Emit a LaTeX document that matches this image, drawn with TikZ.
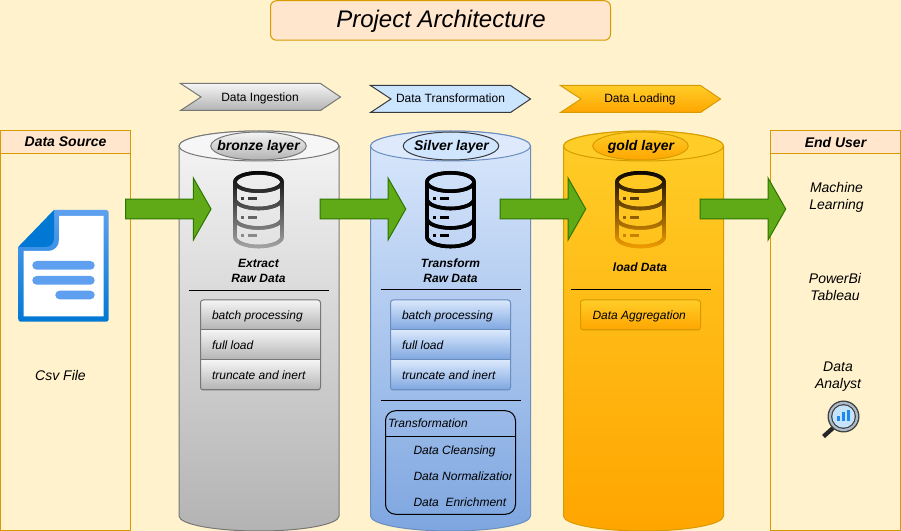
\documentclass[tikz,border=0pt]{standalone}
\usepackage{fontspec}
\setmainfont{Liberation Sans}
\usetikzlibrary{shapes.geometric,shapes.arrows}
\def\pu{0.75pt}
\definecolor{bgc}{HTML}{FFF2CC}
\definecolor{hdr}{HTML}{FFE6CC}
\definecolor{org}{HTML}{D79B00}
\definecolor{brT}{HTML}{F5F5F5}
\definecolor{brB}{HTML}{B3B3B3}
\definecolor{brS}{HTML}{777777}
\definecolor{siT}{HTML}{DAE8FC}
\definecolor{siB}{HTML}{7EA6E0}
\definecolor{siS}{HTML}{6C8EBF}
\definecolor{stepS}{HTML}{CCE5FF}
\definecolor{dkS}{HTML}{36393D}
\definecolor{goT}{HTML}{FFCD28}
\definecolor{goB}{HTML}{FFA500}
\definecolor{grn}{HTML}{60A917}
\definecolor{grnS}{HTML}{2D7600}
\definecolor{docL}{HTML}{5EA0EF}
\definecolor{docD}{HTML}{0078D4}
\definecolor{ringc}{HTML}{AEBBC8}
\definecolor{glass}{HTML}{C5E3FB}
\definecolor{barb}{HTML}{1E88F0}
\tikzset{
  txt/.style={inner sep=0,outer sep=0,font=\fontsize{9}{12}\selectfont\itshape},
  plain/.style={inner sep=0,outer sep=0,font=\fontsize{9}{12}\selectfont},
  big/.style={inner sep=0,outer sep=0,align=center,font=\fontsize{10.5}{12.75}\selectfont\itshape},
  head/.style={inner sep=0,outer sep=0,font=\fontsize{10.5}{12}\selectfont\itshape\bfseries},
  bold/.style={inner sep=0,outer sep=0,align=center,font=\fontsize{9}{11.25}\selectfont\itshape\bfseries},
  flow/.style={single arrow,draw=grnS,fill=grn,line width=0.75pt,inner sep=0,
    minimum height=85.5*\pu,minimum width=61*\pu,single arrow head extend=21.25*\pu,single arrow tip angle=120.6},
  layer/.style={ellipse,inner sep=0,minimum width=95.5*\pu,minimum height=28*\pu,line width=0.75pt},
  rule/.style={line width=0.75pt,black}
}
\newcommand\shaft{\rule{0pt}{13.9pt}}
\newcommand\cyl[4]{% x0, top, bottom, stroke
  \pgfmathsetmacro\xa{#1}\pgfmathsetmacro\xb{#1+160}\pgfmathsetmacro\xm{#1+80}
  \pgfmathsetmacro\ca{#1+35.8}\pgfmathsetmacro\cb{#1+124.2}
  \path[draw=#4,line width=0.75pt,top color=#2,bottom color=#3]
    (\xa,146) -- (\xa,516) .. controls (\xa,524.3) and (\ca,531) .. (\xm,531)
    .. controls (\cb,531) and (\xb,524.3) .. (\xb,516) -- (\xb,146)
    .. controls (\xb,137.7) and (\cb,131) .. (\xm,131)
    .. controls (\ca,131) and (\xa,137.7) .. (\xa,146) -- cycle;
}
\newcommand\stepshape[7]{% x0 y0 notch shoulder tip y1 style
  \pgfmathsetmacro\ym{(#2+#6)/2}
  \path[#7,line width=0.75pt] (#1,#2) -- (#4,#2) -- (#5,\ym) -- (#4,#6) -- (#1,#6) -- (#3,\ym) -- cycle;
}
\newcommand\dbpaths{%
  \draw[ic,line width=3.6*\pu] (0,182) ellipse [x radius=23.5,y radius=9.2];
  \draw[ic,line width=3.6*\pu] (-23.5,182) -- (-23.5,237)
     .. controls (-23.5,242.2) and (-13,246.5) .. (0,246.5)
     .. controls (13,246.5) and (23.5,242.2) .. (23.5,237) -- (23.5,182);
  \foreach \yb in {199,218.5}{
    \draw[ic,line width=3.6*\pu] (-23.5,\yb)
     .. controls (-23.5,\yb+5.2) and (-13,\yb+9.5) .. (0,\yb+9.5)
     .. controls (13,\yb+9.5) and (23.5,\yb+5.2) .. (23.5,\yb);
  }
  \foreach \yb in {198.5,218,236}{
    \fill[ic] (-17.8,\yb-1.5) rectangle (-14.5,\yb+1.5);
    \fill[ic] (-10.2,\yb-1.5) rectangle (-1.2,\yb+1.5);
  }
}
\newcommand\dbicon[3]{% cx, fade colour, end percent
  \begin{scope}[shift={(#1,0)}]
    \foreach \i in {0,...,40}{
      \pgfmathsetmacro\yy{169+\i*2}
      \pgfmathsetmacro\yz{\yy+2.4}
      \pgfmathtruncatemacro\pc{100-(100-#3)*\i/40}
      \colorlet{ic}{black!\pc!#2}
      \begin{scope}
        \clip (-30,\yy) rectangle (30,\yz);
        \dbpaths
      \end{scope}
    }
  \end{scope}
}
\newcommand\rows[6]{% x0, x1, top col, bottom col, stroke, n rows
  \pgfmathsetmacro\ybot{300+30*#6}
  \begin{scope}
    \clip[rounded corners=2pt] (#1,300) rectangle (#2,\ybot);
    \foreach \r in {1,...,#6}{
      \pgfmathsetmacro\ya{270+30*\r}\pgfmathsetmacro\yb{300+30*\r}
      \path[draw=#5,line width=0.75pt,top color=#3,bottom color=#4] (#1,\ya) rectangle (#2,\yb);
    }
  \end{scope}
  \draw[#5,line width=0.75pt,rounded corners=2pt] (#1,300) rectangle (#2,\ybot);
}
\begin{document}
\begin{tikzpicture}[x=0.75pt,y=-0.75pt]
\useasboundingbox (0,0) rectangle (901,531);
\fill[bgc] (0,0) rectangle (901,531);
% title
\node[draw=org,fill=hdr,line width=0.75pt,rounded corners=4.5pt,minimum width=340*\pu,minimum height=39.5*\pu,inner sep=0] (title) at (440.5,20.5) {};
\node[inner sep=0,font=\fontsize{18}{22}\selectfont\itshape] (titletxt) at (441,21.5) {Project Architecture};
% side panels
\node[draw=org,line width=0.75pt,minimum width=130*\pu,minimum height=400*\pu,inner sep=0] (srcbody) at (65.5,330.5) {};
\node[draw=org,fill=hdr,line width=0.75pt,minimum width=130*\pu,minimum height=23*\pu,inner sep=0] (srchead) at (65.5,142) {};
\node[head] (srctxt) at (65.5,143.5) {\vphantom{Ag}Data Source};
\node[draw=org,line width=0.75pt,minimum width=130*\pu,minimum height=400*\pu,inner sep=0] (endbody) at (835.5,330.5) {};
\node[draw=org,fill=hdr,line width=0.75pt,minimum width=130*\pu,minimum height=23*\pu,inner sep=0] (endhead) at (835.5,142) {};
\node[head] (endtxt) at (835.5,143.5) {\vphantom{Ag}End User};
% steps
\stepshape{180.5}{83.5}{201}{320.5}{340.5}{110.5}{draw=brS,top color=brT,bottom color=brB}
\node[plain] (s1) at (260,98) {\vphantom{Ag}Data Ingestion};
\stepshape{370.5}{85.5}{391}{510.5}{530.5}{112.5}{draw=dkS,fill=stepS}
\node[plain] (s2) at (450.5,99.5) {\vphantom{Ag}Data Transformation};
\stepshape{560.5}{85.5}{581}{700.5}{720.5}{112.5}{draw=org,top color=goT,bottom color=goB}
\node[plain] (s3) at (640,99.5) {\vphantom{Ag}Data Loading};
% cylinders
\cyl{179}{brT}{brB}{brS}
\cyl{370.5}{siT}{siB}{siS}
\cyl{563.5}{goT}{goB}{org}
\draw[brS,fill=brT!90!white,line width=0.75pt] (259,146) ellipse [x radius=80,y radius=15];
\draw[siS,fill=siT!90!white,line width=0.75pt] (450.5,146) ellipse [x radius=80,y radius=15];
\draw[org,fill=goT,line width=0.75pt] (643.5,146) ellipse [x radius=80,y radius=15];
% layer labels
\node[layer,draw=brS,top color=brT,bottom color=brB] (lb) at (258.5,146) {};
\node[head] (lbt) at (258.5,146.5) {\vphantom{Ag}bronze layer};
\node[layer,draw=dkS,fill=stepS!70!siT] (ls) at (451,146) {};
\node[head] (lst) at (451.5,146.5) {\vphantom{Ag}Silver layer};
\node[layer,draw=org,top color=goT,bottom color=goB] (lg) at (640.5,146) {};
\node[head] (lgt) at (641,146.5) {\vphantom{Ag}gold layer};
% db icons
\dbicon{258.5}{brB}{8}
\dbicon{450.5}{black}{100}
\dbicon{640.5}{goB}{5}
% captions
\node[bold] (c1) at (258.5,270.5) {Extract\\Raw Data};
\node[bold] (c2) at (450.5,270.5) {Transform\\Raw Data};
\node[bold] (c3) at (640,268.5) {\vphantom{Ag}load Data};
% rules
\coordinate (r1a) at (188.5,290.5); \coordinate (r1b) at (328.5,290.5);
\coordinate (r2a) at (380.5,289.5); \coordinate (r2b) at (520.5,289.5);
\coordinate (r3a) at (570.5,289.5); \coordinate (r3b) at (710.5,289.5);
\coordinate (r4a) at (380.5,400.5); \coordinate (r4b) at (520.5,400.5);
\draw[rule] (r1a) -- (r1b);
\draw[rule] (r2a) -- (r2b);
\draw[rule] (r3a) -- (r3b);
\draw[rule] (r4a) -- (r4b);
% process rows
\rows{200.5}{320.5}{brT}{brB}{brS}{3}
\node[txt,anchor=west] (b1) at (212,316) {\vphantom{Ag}batch processing};
\node[txt,anchor=west] (b2) at (212,346) {\vphantom{Ag}full load};
\node[txt,anchor=west] (b3) at (212,376) {\vphantom{Ag}truncate and inert};
\rows{390.5}{510.5}{siT}{siB}{siS}{3}
\node[txt,anchor=west] (m1) at (402,316) {\vphantom{Ag}batch processing};
\node[txt,anchor=west] (m2) at (402,346) {\vphantom{Ag}full load};
\node[txt,anchor=west] (m3) at (402,376) {\vphantom{Ag}truncate and inert};
\rows{580.5}{700.5}{goT}{goB}{org}{1}
\node[txt,anchor=west] (g1) at (592.5,316) {\vphantom{Ag}Data Aggregation};
% transformation box
\node[draw=black,line width=0.75pt,rounded corners=7.5pt,minimum width=130*\pu,minimum height=103.5*\pu,inner sep=0] (tbox) at (450.5,462.5) {};
\coordinate (t1) at (385.5,436.5); \coordinate (t2) at (515.5,436.5);
\draw[rule] (t1) -- (t2);
\node[txt,anchor=west] (tt) at (388,424) {\vphantom{Ag}Transformation};
\node[txt,anchor=west] (t3) at (413.5,451) {\vphantom{Ag}Data Cleansing};
\begin{scope}
  \clip (386,465) rectangle (511.5,490);
  \node[txt,anchor=west] (t4) at (413.5,477) {\vphantom{Ag}Data Normalization};
\end{scope}
\node[txt,anchor=west] (t5) at (413.5,503) {\vphantom{Ag}Data\ \ Enrichment};
% document icon
\path[top color=docL,bottom color=docD]
  (54,210) -- (106,210) .. controls (107.7,210) and (108.7,211) .. (108.7,212.7)
  -- (108.7,319) .. controls (108.7,320.7) and (107.7,321.7) .. (106,321.7)
  -- (21,321.7) .. controls (19.3,321.7) and (18.3,320.7) .. (18.3,319) -- (18.3,247) -- cycle;
\fill[white] (59,216) -- (103.5,216) -- (103.5,316.5) -- (23.5,316.5) -- (23.5,251)
  -- (48,251) .. controls (54.5,251) and (59,246.5) .. (59,240) -- cycle;
\fill[docD] (18.3,247) -- (54,210) -- (54,238) .. controls (54,243.5) and (50.5,247) .. (45,247) -- cycle;
\fill[docL,rounded corners=3.2pt] (32.3,261) rectangle (94.7,269.7);
\fill[docL,rounded corners=3.2pt] (32.3,276) rectangle (94.7,284.7);
\fill[docL,rounded corners=3.2pt] (55.3,290.7) rectangle (94.7,299.3);
\node[big] (csv) at (60.5,376.5) {\vphantom{Ag}Csv File};
% end users
\node[big] (e1) at (836.5,197) {Machine\\Learning};
\node[big] (e2) at (835,287) {PowerBi\\Tableau};
\node[big] (e3) at (838,377) {Data\\Analyst};
% magnifier
\draw[black!85,line width=3.2pt] (833,428) -- (823.5,436.5);
\fill[black!75] (843.5,416.5) circle [radius=16];
\fill[ringc] (843.5,416.5) circle [radius=14.6];
\fill[black!75] (843.5,416.5) circle [radius=12.4];
\fill[glass] (843.5,416.5) circle [radius=11.2];
\fill[barb] (837.2,416) rectangle (840,421);
\fill[barb] (842,412.5) rectangle (844.8,421);
\fill[barb] (846.8,410) rectangle (849.6,421);
% flow arrows
\node[flow] (a1) at (165.5,209) {\shaft};
\node[flow] (a2) at (360.2,209) {\shaft};
\node[flow] (a3) at (540.2,209) {\shaft};
\node[flow] (a4) at (740.2,209) {\shaft};
\end{tikzpicture}
\end{document}
